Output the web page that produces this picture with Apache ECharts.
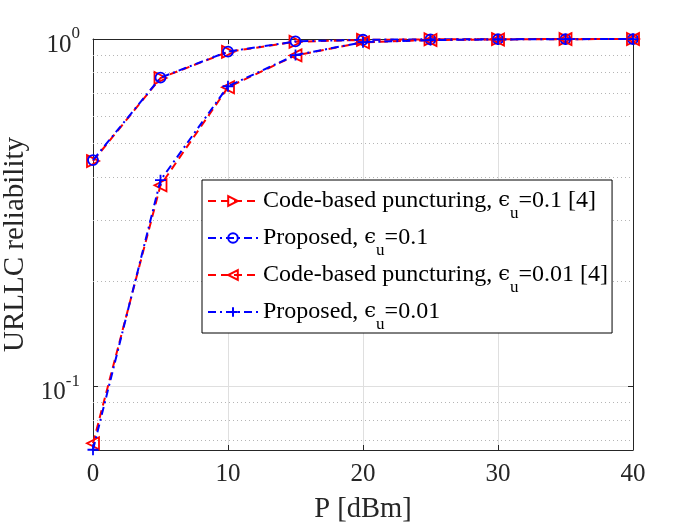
<!DOCTYPE html>
<html>
<head>
<meta charset="utf-8">
<script src="https://cdn.jsdelivr.net/npm/echarts@6/dist/echarts.min.js"></script>
<style>html,body{margin:0;padding:0;background:#fff;}#c{width:700px;height:525px;}</style>
</head>
<body>
<div id="c"></div>
<script>
var xValues = [0, 5, 10, 15, 20, 25, 30, 35, 40];
var codeBased01 = [0.445, 0.772, 0.918, 0.982, 0.994, 0.998, 0.999, 0.9995, 0.9998];
var proposed01  = [0.448, 0.774, 0.920, 0.984, 0.995, 0.998, 0.999, 0.9995, 0.9998];
var codeBased001 = [0.0685, 0.379, 0.726, 0.897, 0.978, 0.993, 0.997, 0.999, 0.9995];
var proposed001  = [0.0656, 0.392, 0.731, 0.899, 0.979, 0.993, 0.997, 0.999, 0.9995];
var seriesNames = [
  'Code-based puncturing, {e|ϵ}{sub|u}=0.1 [4]',
  'Proposed, {e|ϵ}{sub|u}=0.1',
  'Code-based puncturing, {e|ϵ}{sub|u}=0.01 [4]',
  'Proposed, {e|ϵ}{sub|u}=0.01'
];
var minorGrid = [0.07, 0.08, 0.09, 0.2, 0.3, 0.4, 0.5, 0.6, 0.7, 0.8, 0.9];
var yMin = 0.0655, yMax = 1;

function pairs(arr){ return xValues.map(function(x,i){ return [x, arr[i]]; }); }

var FONT = 'Liberation Serif';
var AX = '#262626';
var RED = '#ff0000', BLUE = '#0000ff';
var dashRed = [8, 5];
var dashDotBlue = [8, 4, 2, 4];

var chart = echarts.init(document.getElementById('c'), null, {renderer: 'canvas'});

function mkSeries(idx, data, color, dash, symbol, size){
  return {
    name: seriesNames[idx],
    type: 'line',
    data: pairs(data),
    xAxisIndex: 0, yAxisIndex: 0,
    symbol: symbol,
    symbolSize: size,
    showAllSymbol: true,
    clip: false,
    lineStyle: {color: color, width: 2, type: dash},
    itemStyle: {color: 'rgba(0,0,0,0)', borderColor: color, borderWidth: 1.8},
    emphasis: {disabled: true},
    z: 3 + idx
  };
}

var s0 = mkSeries(0, codeBased01, RED, dashRed, 'path://M0,0L10,5L0,10Z', 12);
s0.markLine = {
  silent: true,
  symbol: ['none', 'none'],
  label: {show: false},
  lineStyle: {color: '#b5b5b5', type: [1, 3], width: 1},
  animation: false,
  z: 1,
  data: minorGrid.map(function(v){ return {yAxis: v}; })
};

var option = {
  animation: false,
  backgroundColor: '#fff',
  grid: {left: 93, right: 67, top: 39, bottom: 75, containLabel: false, outerBoundsMode: 'none'},
  legend: {
    orient: 'vertical',
    left: 202, top: 180,
    backgroundColor: '#fff',
    borderColor: '#000',
    borderWidth: 1,
    padding: [0, 4, 0, 5],
    itemGap: -5,
    itemWidth: 50,
    itemHeight: 12,
    selectedMode: false,
    textStyle: {
      fontFamily: FONT, fontSize: 24, color: '#000', lineHeight: 24,
      rich: {
        e: {fontFamily: 'DejaVu Serif', fontSize: 21, lineHeight: 24, color: '#000'},
        sub: {fontFamily: FONT, fontSize: 17, lineHeight: 17, padding: [25, 0, 0, 0], color: '#000'}
      }
    },
    data: seriesNames
  },
  xAxis: [{
    type: 'value', min: 0, max: 40, interval: 10,
    position: 'bottom',
    name: 'P [dBm]', nameLocation: 'middle', nameGap: 45,
    nameTextStyle: {fontFamily: FONT, fontSize: 28.5, color: AX},
    axisLine: {show: true, onZero: false, lineStyle: {color: AX, width: 1}},
    axisTick: {show: true, inside: true, length: 5, lineStyle: {color: AX}},
    axisLabel: {fontFamily: FONT, fontSize: 25, color: AX, margin: 12},
    splitLine: {show: true, lineStyle: {color: '#dfdfdf', width: 1}}
  }, {
    type: 'value', min: 0, max: 40, interval: 10,
    position: 'top',
    axisLine: {show: true, onZero: false, lineStyle: {color: AX, width: 1}},
    axisTick: {show: true, inside: true, length: 5, lineStyle: {color: AX}},
    axisLabel: {show: false},
    splitLine: {show: false}
  }],
  yAxis: [{
    type: 'log', logBase: 10, min: yMin, max: yMax,
    position: 'left',
    name: 'URLLC reliability', nameLocation: 'middle', nameGap: 60,
    nameTextStyle: {fontFamily: FONT, fontSize: 29, color: AX},
    axisLine: {show: true, onZero: false, lineStyle: {color: AX, width: 1}},
    axisTick: {show: true, inside: true, length: 5, lineStyle: {color: AX}},
    axisLabel: {
      fontFamily: FONT, fontSize: 25, color: AX, margin: 13,
      showMinLabel: false,
      formatter: function(v){
        if (Math.abs(v - 1) < 1e-9) return '{b|10}{s|0}';
        if (Math.abs(v - 0.1) < 1e-9) return '{b|10}{s|-1}';
        return '';
      },
      rich: {
        b: {fontFamily: FONT, fontSize: 25, lineHeight: 25, padding: [12, 0, 0, 0], color: AX},
        s: {fontFamily: FONT, fontSize: 17, lineHeight: 17, padding: [5, 0, 15, 0], color: AX}
      }
    },
    splitLine: {show: true, lineStyle: {color: '#dfdfdf', width: 1}}
  }, {
    type: 'log', logBase: 10, min: yMin, max: yMax,
    position: 'right',
    axisLine: {show: true, onZero: false, lineStyle: {color: AX, width: 1}},
    axisTick: {show: true, inside: true, length: 5, lineStyle: {color: AX}},
    axisLabel: {show: false},
    splitLine: {show: false}
  }],
  series: [
    s0,
    mkSeries(1, proposed01, BLUE, dashDotBlue, 'circle', 10),
    mkSeries(2, codeBased001, RED, dashRed, 'path://M10,0L0,5L10,10Z', 12),
    mkSeries(3, proposed001, BLUE, dashDotBlue, 'path://M5,0L5,10M0,5L10,5', 11)
  ]
};
chart.setOption(option);
</script>
</body>
</html>
